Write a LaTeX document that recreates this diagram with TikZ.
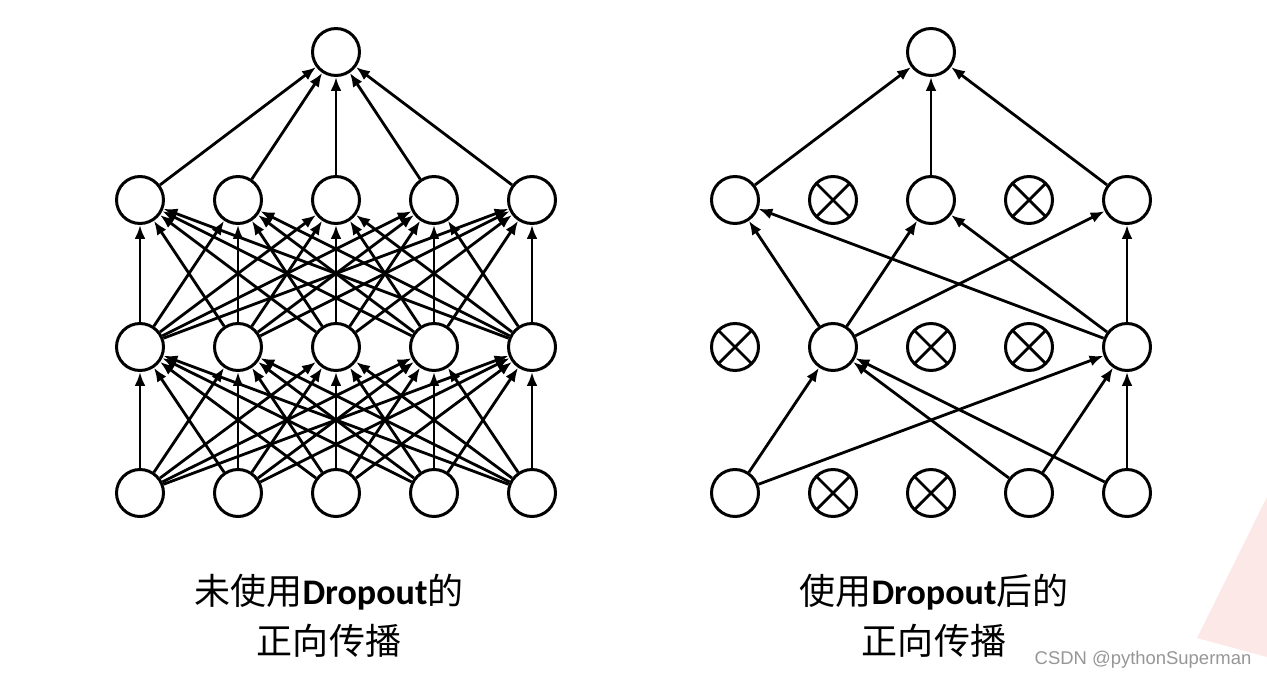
\documentclass[tikz,border=0pt]{standalone}
\usepackage{fontspec}
\setmainfont{Noto Sans CJK SC}
\newfontfamily\dropfont{Carlito}
\newfontfamily\markfont{Liberation Sans}
\usetikzlibrary{arrows.meta}
\definecolor{pinkbg}{RGB}{253,232,232}
\definecolor{markgray}{RGB}{150,150,150}
\tikzset{
  neuron/.style={circle,draw,line width=1.7pt,minimum size=0.94cm,inner sep=0pt,fill=white},
  dropped/.style={neuron,path picture={
    \draw[line width=1.6pt] (path picture bounding box.south west) -- (path picture bounding box.north east)
      (path picture bounding box.north west) -- (path picture bounding box.south east);}},
  conn/.style={-{Latex[length=0.28cm,width=0.22cm]},line width=1.6pt},
  caption/.style={align=center,font=\fontsize{20.5}{28.5}\selectfont}
}
\begin{document}
\begin{tikzpicture}[x=0.02cm,y=-0.02cm]
\useasboundingbox (0,0) rectangle (1267,679);
\fill[pinkbg] (1267,497) -- (1197,638) -- (1267,657) -- cycle;
% left net: no dropout
\foreach \i in {1,...,5} {
  \node[neuron] (La\i) at ({42+98*\i},493) {};
  \node[neuron] (Lb\i) at ({42+98*\i},347) {};
  \node[neuron] (Lc\i) at ({42+98*\i},200) {};
}
\node[neuron] (Lout) at (336,52) {};
\foreach \i in {1,...,5} {
  \foreach \j in {1,...,5} {
    \draw[conn] (La\i) -- (Lb\j);
    \draw[conn] (Lb\i) -- (Lc\j);
  }
  \draw[conn] (Lc\i) -- (Lout);
}
% right net: with dropout
\foreach \i/\s in {1/neuron,2/dropped,3/dropped,4/neuron,5/neuron}
  \node[\s] (Ra\i) at ({637+98*\i},493) {};
\foreach \i/\s in {1/dropped,2/neuron,3/dropped,4/dropped,5/neuron}
  \node[\s] (Rb\i) at ({637+98*\i},347) {};
\foreach \i/\s in {1/neuron,2/dropped,3/neuron,4/dropped,5/neuron}
  \node[\s] (Rc\i) at ({637+98*\i},200) {};
\node[neuron] (Rout) at (931,52) {};
\foreach \i in {1,4,5}
  \foreach \j in {2,5}
    \draw[conn] (Ra\i) -- (Rb\j);
\foreach \i in {2,5}
  \foreach \j in {1,3,5}
    \draw[conn] (Rb\i) -- (Rc\j);
\foreach \j in {1,3,5}
  \draw[conn] (Rc\j) -- (Rout);
% captions
\node[caption] (capL) at (329,616) {未使用{\dropfont\bfseries Dropout}的\\正向传播};
\node[caption] (capR) at (934,616) {使用{\dropfont\bfseries Dropout}后的\\正向传播};
\node[text=markgray,font=\markfont\fontsize{10.5}{12}\selectfont] (mark) at (1143,660) {CSDN @pythonSuperman};
\end{tikzpicture}
\end{document}
